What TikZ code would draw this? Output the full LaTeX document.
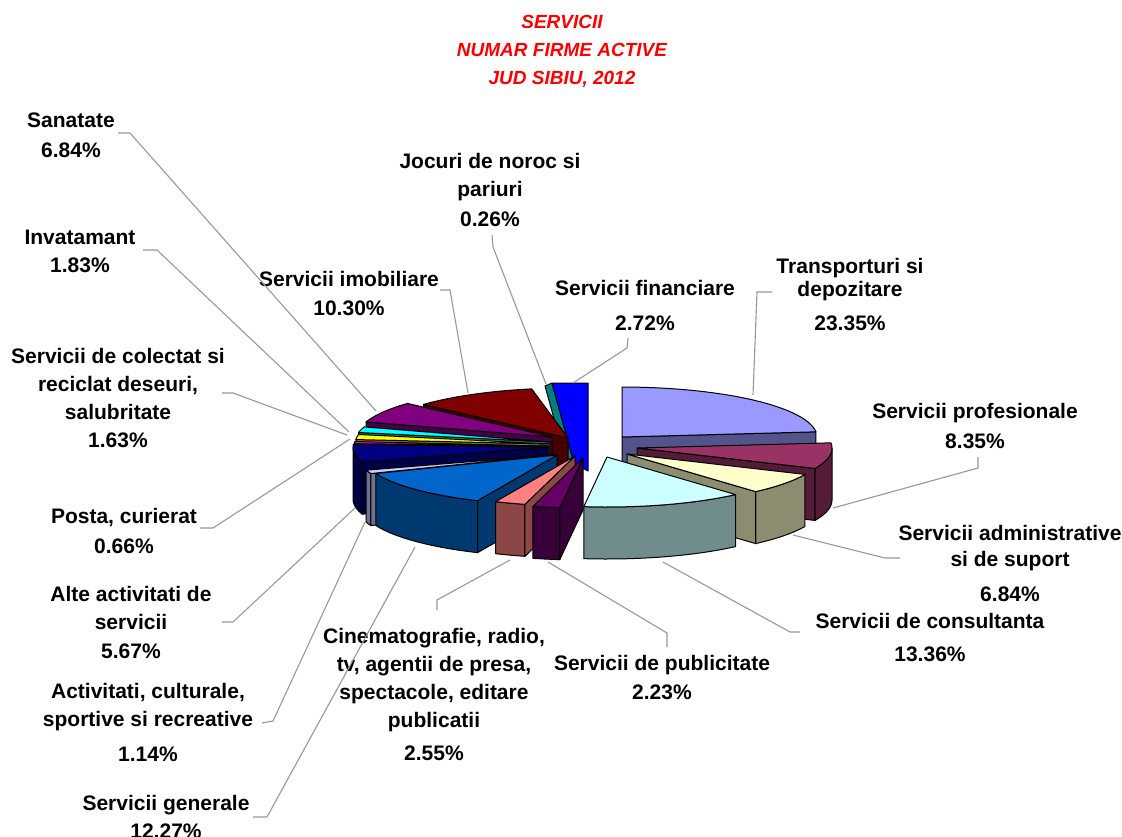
\documentclass[tikz,border=0pt]{standalone}
\usepackage{fontspec}
\setmainfont{Liberation Sans}

% slice colours
\definecolor{cTransport}{HTML}{9999FF}
\definecolor{cProfes}{HTML}{993366}
\definecolor{cAdmin}{HTML}{FFFFCC}
\definecolor{cConsult}{HTML}{CCFFFF}
\definecolor{cPublic}{HTML}{660066}
\definecolor{cCinema}{HTML}{FF8080}
\definecolor{cGenerale}{HTML}{0066CC}
\definecolor{cCultura}{HTML}{CCCCFF}
\definecolor{cAlte}{HTML}{000080}
\definecolor{cPosta}{HTML}{FF00FF}
\definecolor{cColectat}{HTML}{FFFF00}
\definecolor{cInvat}{HTML}{00FFFF}
\definecolor{cSanatate}{HTML}{800080}
\definecolor{cImob}{HTML}{800000}
\definecolor{cJocuri}{HTML}{008080}
\definecolor{cFinanc}{HTML}{0000FF}
\definecolor{cLeader}{HTML}{989898}

% pie size
\newcommand{\pieRx}{195}
\newcommand{\pieRy}{50}
\newcommand{\pieH}{52}

% top face: apex x, apex y, from, to, colour
\newcommand{\pietop}[5]{%
  \filldraw[pieedge, fill=#5] (#1,#2) -- plot[domain=#3:#4] ({#1+\pieRx*cos(\x)},{#2-\pieRy*sin(\x)}) -- cycle;}
% outer face: apex x, apex y, from, to, colour
\newcommand{\pieouter}[5]{%
  \filldraw[pieedge, fill=#5!55!black] plot[domain=#3:#4] ({#1+\pieRx*cos(\x)},{#2-\pieRy*sin(\x)})
    -- plot[domain=#4:#3] ({#1+\pieRx*cos(\x)},{#2-\pieRy*sin(\x)+\pieH}) -- cycle;}
% cut face: apex x, apex y, angle, colour
\newcommand{\pieradial}[4]{%
  \filldraw[pieedge, fill=#4!55!black] (#1,#2) -- ({#1+\pieRx*cos(#3)},{#2-\pieRy*sin(#3)})
    -- ++(0,\pieH) -- (#1,{#2+\pieH}) -- cycle;}

\tikzset{
  pieedge/.style={draw=black, line width=1pt, line join=round},
  lbl/.style={font=\bfseries\fontsize{21}{28}\selectfont, align=center, anchor=north, inner sep=0pt},
  ttl/.style={font=\bfseries\itshape\fontsize{19}{28}\selectfont, text=red, align=center, anchor=north, inner sep=0pt},
  leader/.style={draw=cLeader, line width=1.1pt}
}

\begin{document}
\begin{tikzpicture}[x=1pt, y=-1pt]
    \useasboundingbox (0,0) rectangle (1122,836);

    \node[ttl] (title) at (562,15) {SERVICII\\NUMAR FIRME ACTIVE\\JUD SIBIU, 2012};

    % left part of the pie, back to front
    \filldraw[pieedge, fill=cJocuri] (545,386) -- (552,383) -- (574,463) -- (566,462) -- cycle;
    \filldraw[pieedge, fill=cFinanc] (552,383) -- (588,383) -- (588,471) -- (574,463) -- cycle;
    \pieradial{568}{438}{137.81}{cImob}
    \pietop{568}{438}{100.73}{137.81}{cImob}
    \pieradial{552}{437}{162.43}{cSanatate}
    \pietop{552}{437}{137.81}{162.43}{cSanatate}
    \pieradial{550}{442}{169.02}{cInvat}
    \pietop{550}{442}{162.43}{169.02}{cInvat}
    \pieradial{550}{444}{174.89}{cColectat}
    \pietop{550}{444}{169.02}{174.89}{cColectat}
    \pieradial{549}{446}{177.27}{cPosta}
    \pietop{549}{446}{174.89}{177.27}{cPosta}
    \pieouter{548}{447}{180}{197.68}{cAlte}
    \pieradial{548}{447}{197.68}{cAlte}
    \pietop{548}{447}{177.27}{197.68}{cAlte}
    \pieouter{552}{455}{197.68}{201.78}{cCultura}
    \pieradial{552}{455}{201.78}{cCultura}
    \pietop{552}{455}{197.68}{201.78}{cCultura}
    \pieouter{557}{455}{201.78}{245.95}{cGenerale}
    \pieradial{557}{455}{245.95}{cGenerale}
    \pietop{557}{455}{201.78}{245.95}{cGenerale}
    \pieouter{575}{456}{245.95}{255.13}{cCinema}
    \pieradial{575}{456}{255.13}{cCinema}
    \pietop{575}{456}{245.95}{255.13}{cCinema}
    \pieouter{583}{458}{255.13}{263.16}{cPublic}
    \pieradial{583}{458}{263.16}{cPublic}
    \pietop{583}{458}{255.13}{263.16}{cPublic}

    % right part, pulled out
    \pieradial{622}{437}{5.94}{cTransport}
    \pietop{622}{437}{5.94}{90}{cTransport}
    \pieouter{637}{448}{-24.12}{0}{cProfes}
    \pieradial{637}{448}{-24.12}{cProfes}
    \pietop{637}{448}{-24.12}{5.94}{cProfes}
    \pieouter{627}{454}{-48.74}{-24.12}{cAdmin}
    \pieradial{627}{454}{-48.74}{cAdmin}
    \pietop{627}{454}{-48.74}{-24.12}{cAdmin}
    \pieouter{607}{457}{-96.84}{-48.74}{cConsult}
    \pietop{607}{457}{-96.84}{-48.74}{cConsult}

    % labels
    \node[lbl] (sanatate) at (71,113) {Sanatate\\[2pt]6.84\%};
    \node[lbl] (invat) at (80,230) {Invatamant\\1.83\%};
    \node[lbl] (colectat) at (118,348) {Servicii de colectat si\\reciclat deseuri,\\salubritate\\1.63\%};
    \node[lbl] (posta) at (124,508) {Posta, curierat\\[2pt]0.66\%};
    \node[lbl] (alte) at (131,586) {Alte activitati de\\servicii\\[1pt]5.67\%};
    \node[lbl] (cultura) at (148,683) {Activitati, culturale,\\sportive si recreative\\[7pt]1.14\%};
    \node[lbl] (generale) at (166,795) {Servicii generale\\12.27\%};
    \node[lbl] (cinema) at (434,628) {Cinematografie, radio,\\tv, agentii de presa,\\spectacole, editare\\publicatii\\[5pt]2.55\%};
    \node[lbl] (public) at (662,655) {Servicii de publicitate\\[1pt]2.23\%};
    \node[lbl] (consult) at (930,613) {Servicii de consultanta\\[5pt]13.36\%};
    \node[lbl] (admin) at (1010,525) {Servicii administrative\\[-2pt]si de suport\\[7pt]6.84\%};
    \node[lbl] (profes) at (975,403) {Servicii profesionale\\[2pt]8.35\%};
    \node[lbl] (transport) at (850,258) {Transporturi si\\[-5pt]depozitare\\[6pt]23.35\%};
    \node[lbl] (financ) at (645,280) {Servicii financiare\\[7pt]2.72\%};
    \node[lbl] (jocuri) at (490,153) {Jocuri de noroc si\\pariuri\\[2pt]0.26\%};
    \node[lbl] (imob) at (349,271) {Servicii imobiliare\\[1pt]10.30\%};

    % leader lines
    \coordinate (sanA) at (118,133);  \coordinate (sanB) at (376,411);
    \coordinate (invA) at (143,250);  \coordinate (invB) at (349,432);
    \coordinate (colA) at (222,393);  \coordinate (colB) at (347,435);
    \coordinate (posA) at (200,528);  \coordinate (posB) at (350,439);
    \coordinate (altA) at (222,622);  \coordinate (altB) at (355,508);
    \coordinate (culA) at (262,723);  \coordinate (culB) at (365,522);
    \coordinate (genA) at (253,817);  \coordinate (genB) at (415,547);
    \coordinate (cinA) at (437,610);  \coordinate (cinB) at (510,560);
    \coordinate (pubA) at (667,647);  \coordinate (pubB) at (548,562);
    \coordinate (conA) at (800,632);  \coordinate (conB) at (663,562);
    \coordinate (admA) at (900,558);  \coordinate (admB) at (793,535);
    \coordinate (proA) at (978,457);  \coordinate (proB) at (833,508);
    \coordinate (traA) at (772,292);  \coordinate (traB) at (753,395);
    \coordinate (finA) at (628,338);  \coordinate (finB) at (573,383);
    \coordinate (jocA) at (492,235);  \coordinate (jocB) at (546,384);
    \coordinate (imoA) at (440,290);  \coordinate (imoB) at (468,393);

    \draw[leader] (sanA) -- ++(12,0) -- (sanB);
    \draw[leader] (invA) -- ++(14,0) -- (invB);
    \draw[leader] (colA) -- ++(11,0) -- (colB);
    \draw[leader] (posA) -- ++(13,0) -- (posB);
    \draw[leader] (altA) -- ++(11,0) -- (altB);
    \draw[leader] (culA) -- ++(11,-2) -- (culB);
    \draw[leader] (genA) -- ++(14,0) -- (genB);
    \draw[leader] (cinA) -- ++(0,-10) -- (cinB);
    \draw[leader] (pubA) -- ++(0,-14) -- (pubB);
    \draw[leader] (conA) -- ++(-10,0) -- (conB);
    \draw[leader] (admA) -- ++(-15,0) -- (admB);
    \draw[leader] (proA) -- ++(0,11) -- (proB);
    \draw[leader] (traA) -- ++(-15,0) -- (traB);
    \draw[leader] (finA) -- ++(-1,10) -- (finB);
    \draw[leader] (jocA) -- ++(1,12) -- (jocB);
    \draw[leader] (imoA) -- ++(10,0) -- (imoB);
\end{tikzpicture}
\end{document}
